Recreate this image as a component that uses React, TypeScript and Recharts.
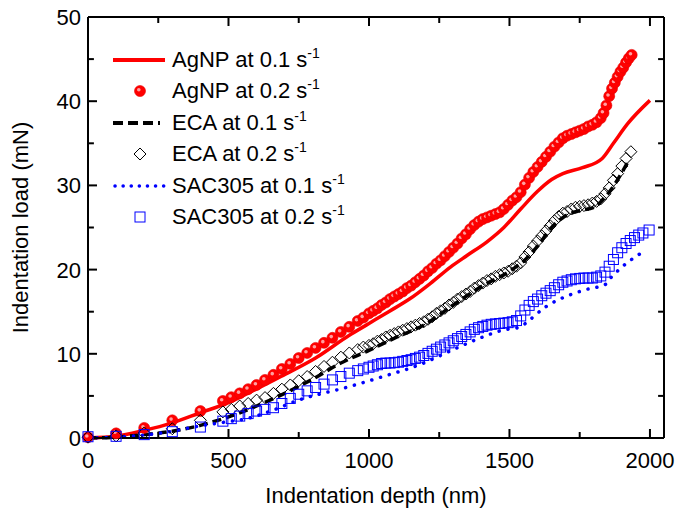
import React from 'react';
import { ComposedChart, Line, Scatter, XAxis, YAxis, Legend } from 'recharts';

const FONT = '"Liberation Sans", Arial, sans-serif';

const depthTicks = [0, 250, 500, 750, 1000, 1250, 1500, 1750, 2000];
const loadTicks = [0, 5, 10, 15, 20, 25, 30, 35, 40, 45, 50];

// [depth (nm), load (mN)]
const agnp01 = [
  [0, 0], [100, 0.2], [200, 0.9], [300, 1.8], [400, 3.0], [500, 4.2], [580, 5.5], [680, 7.2],
  [810, 9.5], [930, 12.2], [1000, 13.6], [1070, 15.0], [1144, 16.5], [1220, 18.4], [1290, 20.3],
  [1350, 21.7], [1420, 23.3], [1480, 25.0], [1540, 27.2], [1600, 29.3], [1650, 30.7], [1690, 31.4],
  [1760, 32.1], [1830, 33.2], [1870, 35.0], [1920, 37.3], [2000, 40.1],
];

const agnp02 = [
  [0, 0.1], [100, 0.55], [200, 1.2], [300, 2.1], [400, 3.2], [480, 4.4], [510, 4.85], [540, 5.3],
  [570, 5.8], [600, 6.3], [630, 6.9], [660, 7.5], [690, 8.2], [720, 8.8], [750, 9.5], [780, 10.1],
  [810, 10.7], [840, 11.3], [870, 11.9], [900, 12.6], [930, 13.2], [960, 13.9], [980, 14.3],
  [1000, 14.8], [1015, 15.1], [1030, 15.4], [1045, 15.8], [1060, 16.1], [1075, 16.5], [1090, 16.8],
  [1105, 17.1], [1120, 17.4], [1135, 17.8], [1150, 18.1], [1165, 18.5], [1180, 18.9], [1195, 19.3],
  [1210, 19.8], [1225, 20.2], [1240, 20.7], [1255, 21.1], [1270, 21.6], [1285, 22.1], [1300, 22.6],
  [1315, 23.1], [1330, 23.7], [1345, 24.2], [1360, 24.8], [1375, 25.3], [1390, 25.7], [1405, 26.0],
  [1420, 26.2], [1435, 26.4], [1450, 26.6], [1465, 26.8], [1480, 27.2], [1495, 27.7], [1510, 28.2],
  [1525, 28.6], [1540, 29.2], [1555, 30.1], [1570, 30.9], [1585, 31.6], [1600, 32.2], [1615, 32.8],
  [1630, 33.4], [1645, 34.0], [1660, 34.6], [1675, 35.1], [1690, 35.6], [1705, 35.9], [1720, 36.1],
  [1735, 36.3], [1750, 36.5], [1765, 36.7], [1780, 37.0], [1795, 37.2], [1810, 37.5], [1825, 38.0],
  [1835, 38.6], [1845, 39.5], [1855, 40.6], [1865, 41.5], [1875, 42.2], [1885, 42.9], [1895, 43.5],
  [1905, 44.0], [1915, 44.6], [1925, 45.1], [1935, 45.5],
];

const eca01 = [
  [0, 0], [100, 0.1], [200, 0.4], [300, 0.8], [400, 1.5], [500, 2.5], [600, 3.8], [700, 5.3],
  [800, 7.0], [900, 8.9], [1000, 10.4], [1100, 12.0], [1200, 13.5], [1300, 15.8], [1400, 18.0],
  [1500, 19.8], [1550, 21.0], [1600, 22.8], [1650, 25.0], [1700, 26.4], [1750, 27.0], [1800, 27.4],
  [1850, 29.0], [1925, 33.0],
];

const eca02 = [
  [0, 0.1], [100, 0.25], [200, 0.6], [300, 1.1], [400, 2.1], [480, 3.1], [510, 3.4], [540, 3.8],
  [570, 4.1], [600, 4.5], [630, 4.8], [660, 5.3], [690, 5.8], [720, 6.3], [750, 6.8], [780, 7.3],
  [810, 7.9], [840, 8.5], [870, 9.0], [900, 9.6], [930, 10.1], [960, 10.5], [980, 10.8],
  [1000, 11.0], [1015, 11.2], [1030, 11.5], [1045, 11.7], [1060, 12.0], [1075, 12.2], [1090, 12.4],
  [1105, 12.6], [1120, 12.8], [1135, 13.0], [1150, 13.2], [1165, 13.4], [1180, 13.6], [1195, 13.8],
  [1210, 14.1], [1225, 14.4], [1240, 14.8], [1255, 15.1], [1270, 15.4], [1285, 15.8], [1300, 16.1],
  [1315, 16.5], [1330, 16.8], [1345, 17.1], [1360, 17.4], [1375, 17.8], [1390, 18.1], [1405, 18.4],
  [1420, 18.7], [1435, 18.9], [1450, 19.2], [1465, 19.4], [1480, 19.6], [1495, 19.8], [1510, 20.1],
  [1525, 20.4], [1540, 20.8], [1555, 21.5], [1570, 22.1], [1585, 22.8], [1600, 23.4], [1615, 24.0],
  [1630, 24.6], [1645, 25.2], [1660, 25.8], [1675, 26.3], [1690, 26.7], [1705, 26.9], [1720, 27.2],
  [1735, 27.4], [1750, 27.5], [1765, 27.6], [1780, 27.7], [1795, 27.9], [1810, 28.1], [1825, 28.4],
  [1840, 29.0], [1855, 29.7], [1870, 30.6], [1885, 31.4], [1900, 32.3], [1915, 33.2], [1932, 34.0],
];

const sac01 = [
  [0, 0], [100, 0.1], [200, 0.35], [300, 0.8], [375, 1.3], [490, 1.9], [565, 2.3], [650, 3.2],
  [750, 4.5], [930, 6.1], [1050, 7.3], [1180, 8.7], [1300, 10.5], [1390, 11.8], [1475, 12.8],
  [1540, 13.2], [1560, 13.7], [1630, 15.6], [1700, 16.8], [1770, 17.6], [1845, 18.3], [1860, 19.0],
  [1890, 20.0], [1985, 22.3],
];

const sac02 = [
  [0, 0.15], [100, 0.2], [200, 0.4], [300, 0.75], [400, 1.3], [480, 2.0], [510, 2.3], [540, 2.6],
  [570, 2.9], [600, 3.2], [630, 3.4], [660, 3.6], [690, 4.1], [720, 4.7], [750, 5.2], [780, 5.6],
  [810, 6.0], [840, 6.4], [870, 6.9], [900, 7.3], [930, 7.7], [960, 8.0], [980, 8.2],
  [1000, 8.4], [1015, 8.55], [1030, 8.7], [1045, 8.85], [1060, 8.9], [1075, 8.9], [1090, 8.95],
  [1105, 9.0], [1120, 9.1], [1135, 9.2], [1150, 9.3], [1165, 9.45], [1180, 9.6], [1195, 9.8],
  [1210, 10.05], [1225, 10.3], [1240, 10.55], [1255, 10.8], [1270, 11.05], [1285, 11.3], [1300, 11.55],
  [1315, 11.8], [1330, 12.05], [1345, 12.3], [1360, 12.6], [1375, 12.9], [1390, 13.1], [1405, 13.25],
  [1420, 13.4], [1435, 13.5], [1450, 13.55], [1465, 13.6], [1480, 13.65], [1495, 13.7], [1510, 13.8],
  [1525, 13.95], [1540, 14.5], [1555, 15.2], [1570, 15.75], [1585, 16.2], [1600, 16.5], [1615, 16.9],
  [1630, 17.2], [1645, 17.5], [1660, 17.85], [1675, 18.2], [1690, 18.5], [1705, 18.65], [1720, 18.8],
  [1735, 18.9], [1750, 18.95], [1765, 19.0], [1780, 19.0], [1795, 19.0], [1810, 19.1], [1825, 19.25],
  [1840, 19.7], [1855, 20.4], [1870, 21.2], [1885, 22.0], [1900, 22.6], [1915, 23.1], [1930, 23.45],
  [1945, 23.8], [1960, 24.1], [1975, 24.35], [1997, 24.7],
];

const legendLabels = ['AgNP at 0.1 s', 'AgNP at 0.2 s', 'ECA at 0.1 s', 'ECA at 0.2 s', 'SAC305 at 0.1 s', 'SAC305 at 0.2 s'];

const X_MAX = 2050;
const Y_MAX = 50;

const toRows = (pts: number[][]) => pts.map(([depth, load]) => ({ depth, load }));

// inward tick marks as short two-point segments; lengths in data units (~9px major, ~6px minor)
const xTickLen = (t: number) => (t % 500 === 0 ? 1.07 : 0.71);
const yTickLen = (t: number) => (t % 10 === 0 ? 32 : 21);
const tickSegments = [
  ...depthTicks.map((t) => [{ depth: t, load: 0 }, { depth: t, load: xTickLen(t) }]),
  ...depthTicks.map((t) => [{ depth: t, load: Y_MAX }, { depth: t, load: Y_MAX - xTickLen(t) }]),
  ...loadTicks.map((t) => [{ depth: 0, load: t }, { depth: yTickLen(t), load: t }]),
  ...loadTicks.map((t) => [{ depth: X_MAX - yTickLen(t), load: t }, { depth: X_MAX, load: t }]),
];

const Ball = ({ cx, cy }: any) => (
  <g>
    <circle cx={cx} cy={cy} r={5.5} fill="#ff0000" stroke="#e80000" strokeWidth={0.6} />
    <circle cx={cx - 1.2} cy={cy - 1.2} r={1.8} fill="#ffa0a0" />
  </g>
);

const Diamond = ({ cx, cy }: any) => (
  <polygon
    points={`${cx},${cy - 6} ${cx + 6},${cy} ${cx},${cy + 6} ${cx - 6},${cy}`}
    fill="none"
    stroke="#000"
    strokeWidth={1}
  />
);

const Square = ({ cx, cy }: any) => (
  <rect x={cx - 5} y={cy - 5} width={10} height={10} fill="none" stroke="#0000ff" strokeWidth={1} />
);

const BottomLabel = (props: any) => {
  const { x, y, payload } = props;
  if (payload.value % 500 !== 0) return <g />;
  return (
    <text x={x} y={y + 30} textAnchor="middle" fontSize={22} fontFamily={FONT} fill="#000">
      {payload.value}
    </text>
  );
};

const LeftLabel = (props: any) => {
  const { x, y, payload } = props;
  if (payload.value % 10 !== 0) return <g />;
  return (
    <text x={x - 7} y={y + 8} textAnchor="end" fontSize={22} fontFamily={FONT} fill="#000">
      {payload.value}
    </text>
  );
};

const legendSymbol = (i: number) => {
  switch (i) {
    case 0:
      return <line x1={3} x2={55} y1={10} y2={10} stroke="#ff0000" strokeWidth={4} />;
    case 1:
      return <Ball cx={30} cy={10} />;
    case 2:
      return <line x1={3} x2={50} y1={10} y2={10} stroke="#000" strokeWidth={4} strokeDasharray="10 5" />;
    case 3:
      return <Diamond cx={30} cy={10} />;
    case 4:
      return (
        <line x1={5} x2={55} y1={10} y2={10} stroke="#0000ff" strokeWidth={3.5} strokeDasharray="0.1 8" strokeLinecap="round" />
      );
    default:
      return <Square cx={30} cy={10} />;
  }
};

const renderLegend = () => (
  <div style={{ fontFamily: FONT, fontSize: 22, color: '#000', lineHeight: 1 }}>
    {legendLabels.map((label, i) => (
      <div key={label} style={{ display: 'flex', alignItems: 'center', height: 31.5 }}>
        <svg width={60} height={20} style={{ display: 'block' }}>
          {legendSymbol(i)}
        </svg>
        <span style={{ marginLeft: 2, whiteSpace: 'nowrap' }}>
          {label}
          <span style={{ fontSize: 14, position: 'relative', top: -9 }}>-1</span>
        </span>
      </div>
    ))}
  </div>
);

export default function App() {
  const axisLine = { stroke: '#000', strokeWidth: 2 };
  return (
    <div style={{ position: 'absolute', left: 0, top: 0, background: '#fff' }}>
      <ComposedChart width={675} height={512} margin={{ top: 16, right: 10, bottom: 0, left: 0 }}>
        <XAxis
          dataKey="depth"
          type="number"
          domain={[0, X_MAX]}
          ticks={depthTicks}
          interval={0}
          tickSize={0}
          tickMargin={0}
          tick={BottomLabel}
          axisLine={axisLine}
          tickLine={false}
          height={74}
          label={{
            value: 'Indentation depth (nm)',
            position: 'insideBottom',
            offset: 9,
            style: { fontSize: 22, fill: '#000', fontFamily: FONT },
          }}
        />
        <XAxis
          xAxisId="top"
          dataKey="depth"
          orientation="top"
          type="number"
          domain={[0, X_MAX]}
          ticks={depthTicks}
          interval={0}
          tick={false}
          axisLine={axisLine}
          tickLine={false}
          height={1}
        />
        <YAxis
          type="number"
          domain={[0, Y_MAX]}
          ticks={loadTicks}
          interval={0}
          tickSize={0}
          tickMargin={0}
          tick={LeftLabel}
          axisLine={axisLine}
          tickLine={false}
          width={88}
          label={{
            value: 'Indentation load (mN)',
            angle: -90,
            position: 'insideLeft',
            offset: 20,
            style: { fontSize: 22, fill: '#000', fontFamily: FONT, textAnchor: 'middle' },
          }}
        />
        <YAxis
          yAxisId="right"
          orientation="right"
          type="number"
          domain={[0, Y_MAX]}
          ticks={loadTicks}
          interval={0}
          tick={false}
          axisLine={axisLine}
          tickLine={false}
          width={1}
        />
        {tickSegments.map((seg, i) => (
          <Line
            key={`tick-${i}`}
            data={seg}
            dataKey="load"
            type="linear"
            stroke="#000"
            strokeWidth={2}
            dot={false}
            activeDot={false}
            legendType="none"
            isAnimationActive={false}
          />
        ))}
        <Scatter data={toRows(agnp02)} dataKey="load" shape={(p: any) => <Ball {...p} />} isAnimationActive={false} />
        <Scatter data={toRows(eca02)} dataKey="load" shape={(p: any) => <Diamond {...p} />} isAnimationActive={false} />
        <Scatter data={toRows(sac02)} dataKey="load" shape={(p: any) => <Square {...p} />} isAnimationActive={false} />
        <Line
          data={toRows(agnp01)}
          xAxisId="top"
          yAxisId="right"
          dataKey="load"
          type="monotone"
          stroke="#ff0000"
          strokeWidth={3.5}
          dot={false}
          activeDot={false}
          isAnimationActive={false}
        />
        <Line data={toRows(eca01)} dataKey="load" type="monotone" stroke="#000" strokeWidth={3.5} strokeDasharray="9 5" dot={false} activeDot={false} isAnimationActive={false} />
        <Line data={toRows(sac01)} dataKey="load" type="monotone" stroke="#0000ff" strokeWidth={3.5} strokeDasharray="0.1 9" strokeLinecap="round" dot={false} activeDot={false} isAnimationActive={false} />
        <Legend
          layout="vertical"
          align="center"
          verticalAlign="middle"
          content={renderLegend}
          wrapperStyle={{ left: 110, top: 44, width: 'auto', height: 'auto' }}
        />
      </ComposedChart>
    </div>
  );
}
